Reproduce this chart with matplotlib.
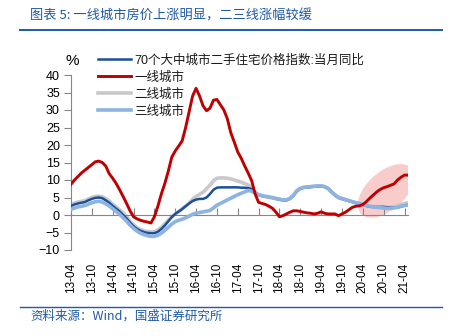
import matplotlib
matplotlib.use("Agg")
import matplotlib.pyplot as plt
from matplotlib.lines import Line2D
from matplotlib.patches import Ellipse
from matplotlib.transforms import IdentityTransform
import numpy as np

plt.rcParams['font.family'] = ['Liberation Sans', 'Noto Sans CJK SC', 'DejaVu Sans']

# monthly, 2013-04 .. 2021-05
start_year, start_month, n_months = 2013, 4, 98

tier1 = [8.8, 10.0, 11.0, 12.0, 12.8, 13.6, 14.4, 15.2, 15.4, 15.0,
         14.0, 11.8, 10.5, 9.0, 7.2, 5.3, 3.3, 1.2, -0.5, -1.1,
         -1.5, -1.8, -2.0, -2.3, -0.5, 2.5, 6.0, 9.0, 12.5, 16.5,
         18.3, 19.7, 21.2, 25.0, 29.5, 34.0, 36.2, 34.0, 31.2, 29.8,
         30.5, 32.8, 33.0, 31.5, 30.0, 27.5, 23.5, 20.8, 18.0, 16.2,
         14.0, 12.0, 9.8, 6.0, 3.6, 3.3, 3.0, 2.5, 1.9, 0.8,
         -0.5, -0.2, 0.3, 0.8, 1.2, 1.2, 1.0, 0.8, 0.6, 0.5,
         0.3, 0.5, 0.9, 0.5, 0.3, 0.3, 0.3, -0.2, 0.3, 0.8,
         1.5, 2.2, 2.5, 2.6, 3.0, 3.8, 4.8, 5.7, 6.6, 7.3,
         7.8, 8.1, 8.5, 8.9, 10.0, 10.8, 11.4, 11.4]

national70 = [2.6, 3.0, 3.3, 3.5, 3.7, 4.2, 4.6, 4.9, 5.0, 4.8,
              4.2, 3.5, 2.6, 1.8, 1.0, 0.0, -1.0, -2.2, -3.2, -4.0,
              -4.5, -4.9, -5.1, -5.2, -5.2, -4.8, -4.0, -3.0, -1.8, -0.6,
              0.3, 1.0, 1.7, 2.5, 3.3, 4.0, 4.4, 4.6, 4.6, 5.0,
              6.0, 7.2, 7.8, 7.9, 7.9, 7.9, 7.9, 7.9, 7.9, 7.8,
              7.8, 7.7, 7.4, 6.4, 5.7, 5.4, 5.2, 5.1, 4.9, 4.6,
              4.4, 4.2, 4.2, 4.6, 5.5, 6.8, 7.5, 7.8, 7.9, 8.0,
              8.1, 8.2, 8.2, 8.0, 7.5, 6.5, 5.6, 4.9, 4.6, 4.3,
              4.0, 3.7, 3.4, 3.2, 2.9, 2.6, 2.4, 2.3, 2.3, 2.3,
              2.3, 2.2, 2.1, 2.1, 2.2, 2.4, 2.7, 2.9]

tier2 = [3.0, 3.4, 3.7, 3.9, 4.1, 4.6, 5.0, 5.3, 5.4, 5.2,
         4.7, 4.0, 3.1, 2.3, 1.5, 0.6, -0.5, -1.7, -2.8, -3.6,
         -4.1, -4.5, -4.7, -4.8, -4.8, -4.3, -3.5, -2.5, -1.5, -0.5,
         0.3, 1.0, 1.8, 2.6, 3.4, 4.5, 5.3, 5.9, 6.5, 7.5,
         8.5, 9.8, 10.5, 10.6, 10.6, 10.5, 10.3, 10.0, 9.7, 9.4,
         9.0, 8.6, 7.8, 6.5, 5.8, 5.5, 5.3, 5.2, 5.0, 4.7,
         4.5, 4.3, 4.3, 4.7, 5.6, 6.9, 7.6, 7.9, 8.0, 8.1,
         8.2, 8.3, 8.3, 8.1, 7.6, 6.6, 5.7, 5.0, 4.7, 4.4,
         4.1, 3.8, 3.5, 3.3, 3.0, 2.7, 2.5, 2.4, 2.4, 2.4,
         2.4, 2.3, 2.3, 2.4, 2.7, 3.0, 3.3, 3.5]

tier3 = [1.6, 2.0, 2.3, 2.5, 2.7, 3.1, 3.5, 3.8, 3.9, 3.7,
         3.2, 2.6, 1.8, 1.0, 0.2, -0.8, -1.8, -2.9, -3.8, -4.6,
         -5.2, -5.6, -5.9, -6.1, -6.1, -5.8, -5.2, -4.4, -3.5, -2.6,
         -1.9, -1.5, -1.2, -0.8, -0.3, 0.2, 0.5, 0.7, 0.9, 1.1,
         1.3, 2.0, 2.8, 3.3, 3.8, 4.3, 4.8, 5.3, 5.8, 6.2,
         6.6, 7.0, 6.8, 6.3, 5.8, 5.5, 5.3, 5.1, 4.9, 4.7,
         4.5, 4.3, 4.3, 4.7, 5.6, 6.9, 7.6, 7.9, 8.0, 8.1,
         8.2, 8.3, 8.3, 8.1, 7.6, 6.6, 5.7, 5.0, 4.7, 4.4,
         4.1, 3.8, 3.5, 3.3, 3.0, 2.7, 2.5, 2.3, 2.2, 2.1,
         2.0, 1.9, 1.9, 2.0, 2.2, 2.5, 2.7, 2.9]

series_names = ["70个大中城市二手住宅价格指数:当月同比", "一线城市", "二线城市", "三线城市"]
series_colors = ["#1c4e9d", "#c00000", "#c9c9c9", "#8db3e2"]

months = np.arange(n_months)
labels = []
for m in months:
    y = start_year + (start_month - 1 + m) // 12
    mo = (start_month - 1 + m) % 12 + 1
    labels.append(f"{y % 100:02d}-{mo:02d}")
tick_idx = months[::6]
tick_lab = [labels[i] for i in tick_idx]

W, H = 453, 336
fig = plt.figure(figsize=(W / 100, H / 100), dpi=100)
ax = fig.add_axes([71 / W, 1 - 250 / H, (408 - 71) / W, (250 - 75) / H])

l_nat, = ax.plot(months, national70, color=series_colors[0], lw=1.8, zorder=3,
                 label=series_names[0])
l_t2, = ax.plot(months, tier2, color=series_colors[2], lw=2.6, zorder=2,
                label=series_names[2])
l_t3, = ax.plot(months, tier3, color=series_colors[3], lw=2.6, zorder=4,
                label=series_names[3])
l_t1, = ax.plot(months, tier1, color=series_colors[1], lw=2.1, zorder=5,
                label=series_names[1])

ax.set_xlim(0, n_months - 1)
ax.set_ylim(-10, 40)
ax.set_yticks(np.arange(-10, 41, 5))
ax.tick_params(axis='y', direction='out', length=5, width=0.8, color='#868686',
               labelsize=9, pad=3)

for s in ['top', 'right']:
    ax.spines[s].set_visible(False)
ax.spines['left'].set_color('#868686')
ax.spines['bottom'].set_position(('data', 0))
ax.spines['bottom'].set_color('#868686')
ax.set_xticks(tick_idx)
ax.tick_params(axis='x', direction='in', length=5, width=0.8, color='#868686',
               labelbottom=False)

sec = ax.secondary_xaxis(0)
sec.set_xticks(tick_idx, tick_lab, rotation=90, fontsize=8.5)
sec.tick_params(axis='x', length=0, pad=9)
sec.spines['bottom'].set_visible(False)

leg = fig.legend(handles=[l_nat, l_t1, l_t2, l_t3], labels=series_names,
                 loc='upper left', bbox_to_anchor=(98 / W, 1 - 54 / H),
                 frameon=False, handlelength=2.6, handletextpad=0.3,
                 labelspacing=0.38, borderpad=0, borderaxespad=0,
                 prop={'family': ['Liberation Sans', 'Noto Sans CJK SC'], 'size': 9})
for t in leg.get_texts():
    t.set_color('#1a1a1a')

# highlight ellipse around recent tier-1 rise
fig.canvas.draw()
cx, cy = ax.transData.transform((90.7, 6.9))
ell = Ellipse((cx, cy), width=68, height=38, angle=42, transform=IdentityTransform(),
              facecolor='#f7b9b9', edgecolor='none', alpha=0.72, zorder=1)
ax.add_artist(ell)

fig.text(72 / W, 1 - 61 / H, "%", fontsize=11, ha='center', va='center')

blue = '#1f5aa6'
fig.text(30 / W, 1 - 16 / H, "图表 5: 一线城市房价上涨明显，二三线涨幅较缓",
         fontsize=9.5, color=blue, style='italic', va='center',
         family=['Noto Sans CJK SC', 'DejaVu Sans'])
fig.add_artist(Line2D([20 / W, 442 / W], [1 - 30 / H, 1 - 30 / H], color='#1a5bb5', lw=1.4))
fig.add_artist(Line2D([20 / W, 442 / W], [1 - 307 / H, 1 - 307 / H], color='#1a5bb5', lw=1.0))
fig.text(30 / W, 1 - 316 / H, "资料来源：Wind，国盛证券研究所",
         fontsize=9, color=blue, style='italic', va='center',
         family=['Noto Sans CJK SC', 'DejaVu Sans'])

fig.savefig("out.png", dpi=100)
